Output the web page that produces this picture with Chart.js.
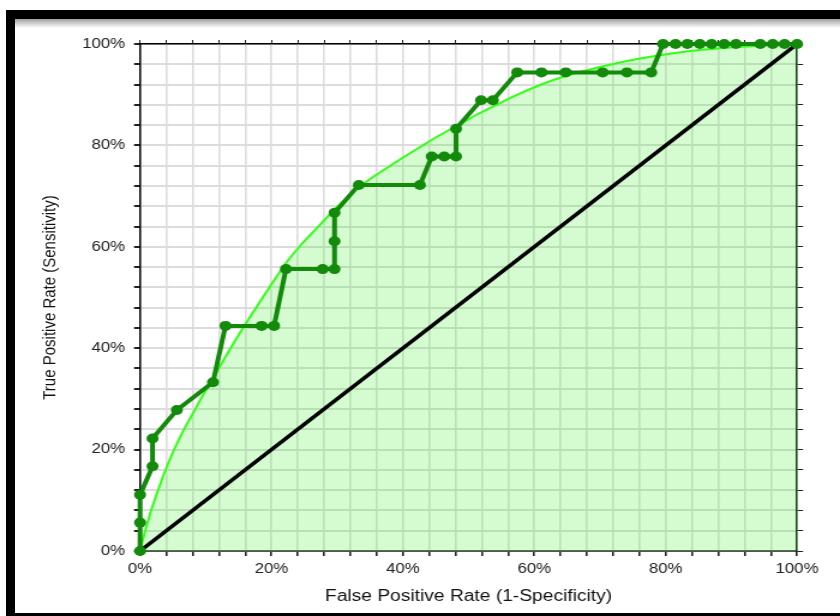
<!DOCTYPE html>
<html>
<head>
<meta charset="utf-8">
<script src="https://cdn.jsdelivr.net/npm/chart.js@4.4.1/dist/chart.umd.min.js"></script>
<style>
html, body { margin: 0; padding: 0; background: #fff; overflow: hidden; }
#page { position: relative; width: 840px; height: 616px; overflow: hidden; }
#frame { position: absolute; left: 6px; top: 10px; width: 900px; height: 606px; box-sizing: border-box;
  border-top: 9px solid #000; border-left: 9px solid #000; border-bottom: 3px solid #000; }
#shade { position: absolute; left: 15px; top: 19px; width: 830px; height: 9px;
  background: linear-gradient(to bottom, #a0a0a0, #fff); }
#wrap { position: absolute; left: 0; top: 0; width: 700px; height: 616px;
  transform: scaleX(1.2); transform-origin: 0 0; }
</style>
</head>
<body>
<div id="page">
  <div id="frame"></div>
  <div id="shade"></div>
  <div id="wrap"><canvas id="roc" width="700" height="616"></canvas></div>
</div>
<script>
// empirical ROC points (%)
const fpr = [0, 0, 0, 1.9, 1.9, 5.6, 11.1, 13.0, 18.5, 20.4,
  22.2, 27.8, 29.6, 29.6, 29.6, 33.3, 42.6, 44.4, 46.3, 48.1,
  48.1, 51.9, 53.7, 57.4, 61.1, 64.8, 70.4, 74.1, 77.8,
  79.6, 81.5, 83.3, 85.2, 87.0, 88.9, 90.7, 94.4, 96.3, 98.1, 100];
const tpr = [0, 5.6, 11.1, 16.7, 22.2, 27.8, 33.3, 44.4, 44.4, 44.4,
  55.6, 55.6, 55.6, 61.1, 66.7, 72.2, 72.2, 77.8, 77.8, 77.8,
  83.3, 88.9, 88.9, 94.4, 94.4, 94.4, 94.4, 94.4, 94.4,
  100, 100, 100, 100, 100, 100, 100, 100, 100, 100, 100];

// fitted (smooth) curve
const fitX = [0, 0.61, 1.52, 2.59, 3.81, 5.02, 6.39, 7.91, 9.59, 11.11, 12.63, 14.16,
  16.74, 19.33, 22.22, 24.35, 26.94, 29.38, 32.42, 35.46, 38.05, 40.03, 42.62, 45.66,
  48.71, 51.29, 54.79, 57.84, 60.88, 64.99, 70.02, 73.06, 76.10, 79.91, 83.71, 88.28,
  92.85, 100];
const fitY = [0, 3.16, 7.30, 11.44, 15.78, 19.53, 23.27, 26.82, 30.77, 34.12, 37.48, 40.83,
  46.15, 51.28, 56.80, 60.16, 63.71, 67.06, 70.81, 73.77, 75.94, 77.61, 79.68, 82.05,
  84.22, 86.09, 88.36, 90.24, 91.91, 93.79, 95.46, 96.35, 97.14, 97.93, 98.62, 99.15,
  99.55, 100];

// chance line
const diagX = [0, 100];
const diagY = [0, 100];

const tickLabels = ['0%', '20%', '40%', '60%', '80%', '100%'];

function pts(xs, ys) {
  return xs.map((x, i) => ({ x: x, y: ys[i] }));
}
function pctLabel(v) {
  const r = Math.round(v);
  return r % 20 === 0 ? tickLabels[r / 20] : '';
}

Chart.defaults.font.family = '"Liberation Sans", Arial, sans-serif';
Chart.defaults.font.size = 14;
Chart.defaults.color = '#222';

var ctx = document.getElementById('roc').getContext('2d');
const rocChart = new Chart(ctx, {
  type: 'line',
  data: {
    datasets: [{
      label: 'Empirical',
      data: pts(fpr, tpr),
      borderColor: 'rgb(18, 138, 10)',
      backgroundColor: 'rgb(18, 138, 10)',
      borderWidth: 4,
      pointRadius: 5,
      pointBorderWidth: 0,
      fill: false,
      tension: 0,
      clip: false
    }, {
      label: 'Chance',
      data: pts(diagX, diagY),
      borderColor: '#000',
      borderWidth: 3.5,
      pointRadius: 0,
      fill: false
    }, {
      label: 'Fitted',
      data: pts(fitX, fitY),
      borderColor: 'rgb(50, 255, 20)',
      backgroundColor: 'rgba(40, 240, 20, 0.2)',
      borderWidth: 2,
      pointRadius: 0,
      cubicInterpolationMode: 'monotone',
      fill: 'origin'
    }]
  },
  options: {
    responsive: false,
    animation: false,
    layout: { padding: 0 },
    plugins: { legend: { display: false }, tooltip: { enabled: false } },
    scales: {
      x: {
        type: 'linear', position: 'bottom', min: 0, max: 100,
        ticks: { stepSize: 4, autoSkip: false, maxRotation: 0, padding: 5, callback: pctLabel },
        grid: { color: '#dcdcdc', lineWidth: 1.6, tickColor: '#222', tickLength: 5 },
        border: { color: '#555', width: 2 },
        title: { display: true, text: 'False Positive Rate (1-Specificity)', font: { size: 16 },
          color: '#111', padding: { top: 0, bottom: 10 } },
        afterFit: s => { s.height = 65; }
      },
      y: {
        type: 'linear', position: 'left', min: 0, max: 100,
        ticks: { stepSize: 4, autoSkip: false, padding: 7.5, callback: pctLabel },
        grid: { color: '#dcdcdc', lineWidth: 2, tickColor: '#222', tickLength: 5 },
        border: { color: '#000', width: 1.5 },
        title: { display: true, text: 'True Positive Rate (Sensitivity)', font: { size: 15 },
          color: '#111', padding: { top: 32.5, bottom: 0 } },
        afterFit: s => { s.width = 116.7; }
      },
      x2: {
        type: 'linear', position: 'top', min: 0, max: 100,
        ticks: { stepSize: 4, autoSkip: false, callback: () => '' },
        grid: { drawOnChartArea: false, tickColor: '#222', tickLength: 4 },
        border: { color: '#000', width: 1.5 },
        afterFit: s => { s.height = 44; }
      },
      y2: {
        type: 'linear', position: 'right', min: 0, max: 100,
        ticks: { stepSize: 4, autoSkip: false, callback: () => '' },
        grid: { drawOnChartArea: false, tickColor: '#222', tickLength: 5 },
        border: { color: '#0b2a0b', width: 1.5 },
        afterFit: s => { s.width = 35.8; }
      }
    }
  }
});
</script>
</body>
</html>
